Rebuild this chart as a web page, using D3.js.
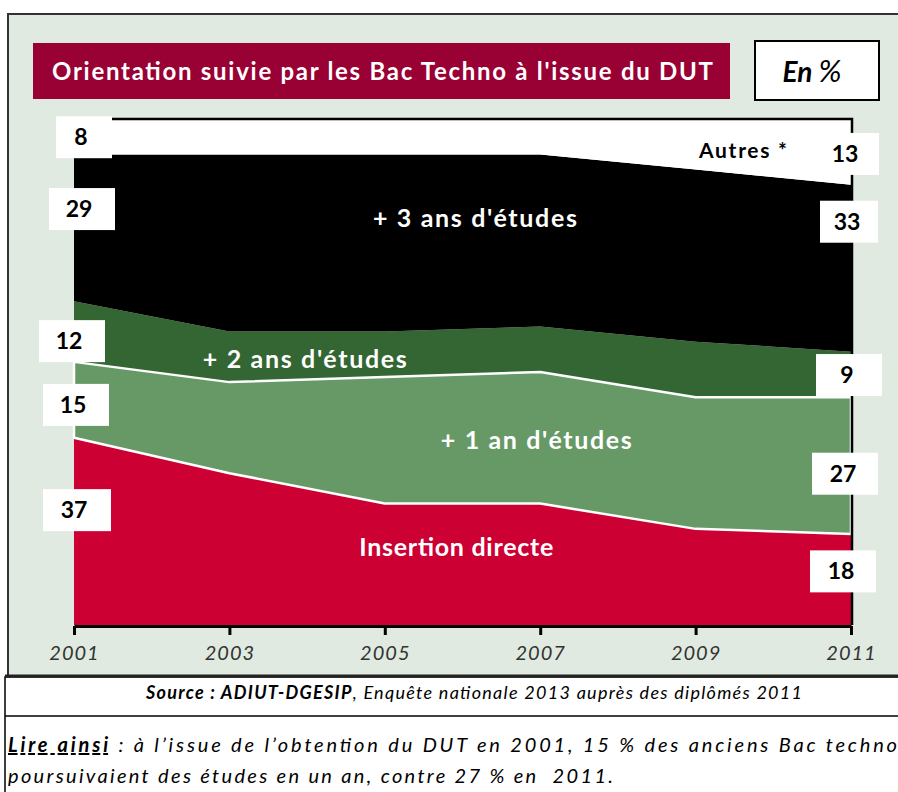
<!DOCTYPE html>
<html>
<head>
  <meta charset="utf-8">
  <script src="https://d3js.org/d3.v7.min.js"></script>
  <style>
    body { margin: 0; background: #fff; }
    svg { display: block; font-family: Lato, "Open Sans", sans-serif; }
  </style>
</head>
<body>
<script>
  "use strict";

  // Data (en %)
  var years = [2001, 2003, 2005, 2007, 2009, 2011];
  var insertion = [37, 30, 24, 24, 19, 18];
  var unAn = [15, 18, 25, 26, 26, 27];
  var deuxAns = [12, 10, 9, 9, 11, 9];
  var troisAns = [29, 35, 35, 34, 34, 33];
  var autres = [8, 7, 7, 7, 10, 13];
  var seriesKeys = ["insertion", "unAn", "deuxAns", "troisAns", "autres"];
  var seriesNames = ["Insertion directe", "+ 1 an d'études", "+ 2 ans d'études", "+ 3 ans d'études", "Autres *"];
  var seriesColors = ["#cc0033", "#669966", "#336633", "#000000", "#ffffff"];

  var width = 898, height = 792;
  var plot = { left: 74, right: 851, top: 119, bottom: 625 };

  var svg = d3.select("body").append("svg")
    .attr("width", width)
    .attr("height", height);

  // Background panel
  svg.append("rect")
    .attr("x", 8).attr("y", 14)
    .attr("width", width).attr("height", 662)
    .attr("fill", "#e0eae0")
    .attr("stroke", "#333").attr("stroke-width", 2);

  // Title banner
  svg.append("rect")
    .attr("x", 33).attr("y", 43)
    .attr("width", 697).attr("height", 56)
    .attr("fill", "#990033");
  svg.append("text")
    .attr("x", 52).attr("y", 80)
    .attr("textLength", 661)
    .style("font-size", "24px")
    .style("font-weight", "bold")
    .style("fill", "#fff")
    .text("Orientation suivie par les Bac Techno à l'issue du DUT");

  // "En %" box
  svg.append("rect")
    .attr("x", 755).attr("y", 41)
    .attr("width", 124).attr("height", 59)
    .attr("fill", "#fff")
    .attr("stroke", "#000").attr("stroke-width", 2);
  var enPct = svg.append("text")
    .attr("x", 812).attr("y", 82)
    .style("text-anchor", "middle")
    .style("font-size", "28px")
    .style("font-style", "italic");
  enPct.append("tspan").style("font-weight", "bold").text("En ");
  enPct.append("tspan").style("font-size", "31px").text("%");

  // Scales
  var x = d3.scaleLinear().domain([2001, 2011]).range([plot.left, plot.right]);
  var y = d3.scaleLinear().domain([0, 100]).range([plot.bottom, plot.top]);

  // Build table for the stack
  var table = years.map(function(yr, i) {
    return {
      year: yr,
      insertion: insertion[i],
      unAn: unAn[i],
      deuxAns: deuxAns[i],
      troisAns: troisAns[i],
      autres: autres[i]
    };
  });
  var stacked = d3.stack().keys(seriesKeys)(table);

  // Plot area background + clip
  svg.append("clipPath").attr("id", "plotClip")
    .append("rect")
    .attr("x", plot.left).attr("y", plot.top)
    .attr("width", plot.right - plot.left)
    .attr("height", plot.bottom - plot.top);

  svg.append("rect")
    .attr("x", plot.left).attr("y", plot.top)
    .attr("width", plot.right - plot.left)
    .attr("height", plot.bottom - plot.top)
    .attr("fill", "#fff");

  var area = d3.area()
    .x(function(d) { return x(d.data.year); })
    .y0(function(d) { return y(d[0]); })
    .y1(function(d) { return y(d[1]); });

  var g = svg.append("g").attr("clip-path", "url(#plotClip)");
  g.selectAll("path.layer")
    .data(stacked)
    .enter().append("path")
    .attr("class", "layer")
    .attr("d", area)
    .attr("fill", function(d, i) { return seriesColors[i]; });

  // White outline around "+ 1 an" band
  svg.append("path")
    .datum(stacked[1])
    .attr("d", area)
    .attr("fill", "none")
    .attr("stroke", "#fff")
    .attr("stroke-width", 2.5)
    .attr("stroke-linejoin", "round");

  // Plot frame (top and right)
  svg.append("path")
    .attr("d", "M" + (plot.left - 1) + "," + plot.top + "H" + (plot.right + 1) + "V" + plot.bottom)
    .attr("fill", "none")
    .attr("stroke", "#000")
    .attr("stroke-width", 2.5);

  // X axis
  var xAxis = d3.axisBottom(x)
    .tickValues(years)
    .tickFormat(d3.format("d"))
    .tickSize(9)
    .tickSizeOuter(0);
  var ax = svg.append("g")
    .attr("transform", "translate(0," + (plot.bottom + 1) + ")")
    .call(xAxis);
  ax.select(".domain").attr("stroke", "#000").attr("stroke-width", 3);
  ax.selectAll(".tick line").attr("stroke", "#000").attr("stroke-width", 3);
  ax.selectAll(".tick text")
    .attr("y", 34).attr("dy", 0)
    .style("font-family", "Lato, sans-serif")
    .style("font-size", "20px")
    .style("font-style", "italic")
    .style("letter-spacing", "1px")
    .style("fill", "#333");

  // Band labels inside areas (anchored in data units)
  var bandLabels = [
    { i: 3, year: 2006.16, value: 78.7, size: 25, len: 204, color: "#fff" },
    { i: 2, year: 2003.97, value: 50.8, size: 25, len: 204, color: "#fff" },
    { i: 1, year: 2006.95, value: 34.8, size: 25, len: 191, color: "#fff" },
    { i: 0, year: 2005.92, value: 13.6, size: 25, len: 194, color: "#fff" },
    { i: 4, year: 2009.61, value: 92.3, size: 21, len: 88, color: "#000" }
  ];
  svg.selectAll("text.band")
    .data(bandLabels)
    .enter().append("text")
    .attr("class", "band")
    .attr("x", function(d) { return x(d.year); })
    .attr("y", function(d) { return y(d.value); })
    .attr("textLength", function(d) { return d.len; })
    .style("text-anchor", "middle")
    .style("font-weight", "bold")
    .style("font-size", function(d) { return d.size + "px"; })
    .style("fill", function(d) { return d.color; })
    .text(function(d) { return seriesNames[d.i]; });

  // Value boxes at first and last year
  var boxLabels = [
    { i: 4, col: 0, value: 96.4, dx: 10, w: 56 },
    { i: 3, col: 0, value: 82.2, dx: 8, w: 66 },
    { i: 2, col: 0, value: 56.1, dx: -2, w: 66 },
    { i: 1, col: 0, value: 43.5, dx: 2, w: 66 },
    { i: 0, col: 0, value: 22.7, dx: 3, w: 68 },
    { i: 4, col: 5, value: 93.1, dx: -4, w: 64 },
    { i: 3, col: 5, value: 79.7, dx: -2, w: 58 },
    { i: 2, col: 5, value: 49.4, dx: -2, w: 66 },
    { i: 1, col: 5, value: 29.9, dx: -6, w: 66 },
    { i: 0, col: 5, value: 10.6, dx: -8, w: 66 }
  ];
  var seriesArrays = [insertion, unAn, deuxAns, troisAns, autres];

  var boxes = svg.selectAll("g.vbox")
    .data(boxLabels)
    .enter().append("g")
    .attr("class", "vbox")
    .attr("transform", function(d) {
      return "translate(" + (x(years[d.col]) + d.dx) + "," + y(d.value) + ")";
    });
  boxes.append("rect")
    .attr("x", function(d) { return -d.w / 2; })
    .attr("y", -21)
    .attr("width", function(d) { return d.w; })
    .attr("height", 42)
    .attr("fill", "#fff");
  boxes.append("text")
    .attr("y", 8)
    .attr("x", function(d) { return d.col === 0 ? -3 : -2; })
    .style("text-anchor", "middle")
    .style("font-weight", "bold")
    .style("font-size", "23px")
    .style("fill", "#000")
    .text(function(d) { return seriesArrays[d.i][d.col]; });

  // Footer: source and reading note
  svg.append("rect")
    .attr("x", 5).attr("y", 677)
    .attr("width", width).attr("height", 120)
    .attr("fill", "#fff")
    .attr("stroke", "#000").attr("stroke-width", 1.5);
  svg.append("line")
    .attr("x1", 5).attr("x2", width)
    .attr("y1", 716).attr("y2", 716)
    .attr("stroke", "#000").attr("stroke-width", 1.5);
  svg.append("line")
    .attr("x1", 5).attr("x2", width)
    .attr("y1", 676).attr("y2", 676)
    .attr("stroke", "#222").attr("stroke-width", 3);

  var src = svg.append("text")
    .attr("x", 146).attr("y", 699)
    .attr("textLength", 656)
    .style("font-size", "18px")
    .style("font-style", "italic");
  src.append("tspan").style("font-weight", "bold").text("Source : ADIUT-DGESIP");
  src.append("tspan").text(", Enquête nationale 2013 auprès des diplômés 2011");

  var lire1 = svg.append("text")
    .attr("x", 8).attr("y", 752)
    .attr("textLength", 889)
    .style("font-size", "20px")
    .style("font-style", "italic");
  lire1.append("tspan")
    .style("font-weight", "bold")
    .style("text-decoration", "underline")
    .text("Lire ainsi");
  lire1.append("tspan").text(" : à l’issue de l’obtention du DUT en 2001, 15 % des anciens Bac techno");

  svg.append("text")
    .attr("x", 8).attr("y", 783)
    .attr("textLength", 605)
    .attr("xml:space", "preserve")
    .style("font-size", "20px")
    .style("font-style", "italic")
    .text("poursuivaient des études en un an, contre 27 % en  2011.");
</script>
</body>
</html>
